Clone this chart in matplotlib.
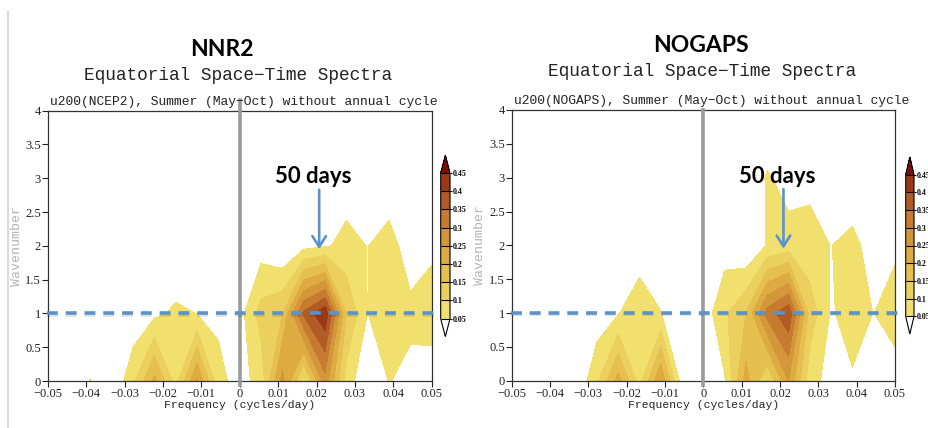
import numpy as np
import matplotlib.pyplot as plt
from matplotlib.colors import ListedColormap
import matplotlib.patheffects as pe
from matplotlib.lines import Line2D

W, H = 929, 428

# spectral grid: 180-day season -> df = 1/180 cycles/day, wavenumbers 0..4
freq = np.arange(-9, 10) / 180.0
wavenum = [0, 1, 2, 3, 4]

# power, one list per wavenumber, columns run over freq
nnr2_w0 = [0, 0, 0.052, 0, 0.09, 0.216, 0.08, 0.255, 0.065, 0.03, 0.07, 0.27, 0.08, 0.28, 0.08, 0.0, 0.052, 0.036, 0.0]
nnr2_w1 = [0, 0, 0, 0, 0.01, 0.0375, 0.06, 0.049, 0.04, 0.03, 0.12, 0.15, 0.36, 0.44, 0.15, 0.049, 0.09, 0.062, 0.095]
nnr2_w2 = [0, 0, 0, 0, 0, 0, 0, 0, 0, 0, 0.025, 0.0, 0.034, 0.045, 0.062, 0.049, 0.07, 0.025, 0.032]
nnr2_w3 = [0, 0, 0, 0, 0, 0, 0, 0, 0, 0, 0, 0, 0, 0.01, 0.03, 0.0, 0.017, 0.0, 0.0]
nnr2_w4 = [0] * 19

nogaps_w0 = [0, 0, 0, 0.005, 0.09, 0.22, 0.08, 0.25, 0.021, 0.0, 0.045, 0.22, 0.10, 0.25, 0.07, 0.03, 0.045, 0.0, 0.0]
nogaps_w1 = [0, 0, 0, 0, 0.02, 0.046, 0.095, 0.052, 0.0, 0.02, 0.091, 0.15, 0.32, 0.39, 0.13, 0.045, 0.07, 0.049, 0.1]
nogaps_w2 = [0, 0, 0, 0, 0, 0, 0.01, 0, 0, 0, 0.026, 0.0, 0.053, 0.07, 0.065, 0.049, 0.066, 0.025, 0.029]
nogaps_w3 = [0, 0, 0, 0, 0, 0, 0, 0, 0, 0, 0, 0, 0.056, 0.03, 0.04, 0.0, 0.01, 0.0, 0.0]
nogaps_w4 = [0] * 19

levels = [0.05, 0.1, 0.15, 0.2, 0.25, 0.3, 0.35, 0.4, 0.45]
cbar_labels = ['0.05', '0.1', '0.15', '0.2', '0.25', '0.3', '0.35', '0.4', '0.45']
shade_colors = ['#f2e06e', '#ecd05f', '#e5bf50', '#ddab42', '#d4963a', '#c67b30', '#b25c25', '#9a3818']
over_color = '#7d0d0a'

xticks = [-0.05, -0.04, -0.03, -0.02, -0.01, 0, 0.01, 0.02, 0.03, 0.04, 0.05]
xtick_labels = ['\u22120.05', '\u22120.04', '\u22120.03', '\u22120.02', '\u22120.01', '0',
                '0.01', '0.02', '0.03', '0.04', '0.05']
yticks = [0, 0.5, 1, 1.5, 2, 2.5, 3, 3.5, 4]
ytick_labels = ['0', '0.5', '1', '1.5', '2', '2.5', '3', '3.5', '4']

panel_names = ['NNR2', 'NOGAPS']
subtitles = ['u200(NCEP2), Summer (May\u2212Oct) without annual cycle',
             'u200(NOGAPS), Summer (May\u2212Oct) without annual cycle']
arrow_freq = [0.0207, 0.0209]
arrow_top = 2.83
arrow_tip = 1.95

blue = '#5b93c8'
mono = 'Liberation Mono'
serif = 'Liberation Serif'


def fx(px):
    return px / W


def fy(py):
    return 1 - py / H


fig = plt.figure(figsize=(W / 100, H / 100), dpi=100)

# slide edge line on the left
fig.add_artist(Line2D([fx(8), fx(8)], [fy(12), fy(428)], color='#dcdcdc', lw=1.6))

# pixel boxes: left, top, right, bottom
ax_boxes = [(47.7, 110.7, 431.7, 381.0), (511.7, 110.0, 895.0, 380.7)]
cax_boxes = [(440.7, 155.0, 450.0, 336.7), (905.7, 157.0, 914.0, 334.0)]
name_pos = [(222, 49), (701, 46)]
title_pos = [(238, 75), (702, 72)]
sub_pos = [(244, 102), (712, 101)]
ylabel_x = [17, 480]
days_pos = [(313, 177), (777, 177)]
vline_top = [100, 110]

powers = [np.array([nnr2_w0, nnr2_w1, nnr2_w2, nnr2_w3, nnr2_w4]),
          np.array([nogaps_w0, nogaps_w1, nogaps_w2, nogaps_w3, nogaps_w4])]

cmap = ListedColormap(shade_colors)
cmap.set_over(over_color)
cmap.set_under('white')

for i in range(2):
    l, t, r, b = ax_boxes[i]
    ax = fig.add_axes([fx(l), fy(b), fx(r) - fx(l), fy(t) - fy(b)])
    cl, ct, cr, cb = cax_boxes[i]
    cax = fig.add_axes([fx(cl), fy(cb), fx(cr) - fx(cl), fy(ct) - fy(cb)])

    cs = ax.contourf(freq, wavenum, powers[i], levels=levels, cmap=cmap, extend='both')
    ax.set_xlim(-0.05, 0.05)
    ax.set_ylim(0, 4)
    ax.set_xticks(xticks)
    ax.set_xticklabels(xtick_labels, family=serif, fontsize=9)
    ax.set_yticks(yticks)
    ax.set_yticklabels(ytick_labels, family=serif, fontsize=9)
    ax.tick_params(direction='out', length=4, width=0.8, pad=1, colors='#222222')
    for s in ax.spines.values():
        s.set_color('#333333')
        s.set_linewidth(0.9)

    # zero-frequency marker, runs a little past the frame
    per_px = 4 / (b - t)
    ax.add_line(Line2D([0, 0], [-4 * per_px, (b - vline_top[i]) * per_px],
                       color='#9a9a9a', lw=2.6, clip_on=False, zorder=4))

    # wavenumber 1 reference line
    ax.add_line(Line2D([-0.0503, 0.0523], [1, 1], color=blue, lw=2.6, dashes=(3.0, 2.2),
                       clip_on=False, zorder=5,
                       path_effects=[pe.SimpleLineShadow(offset=(0.6, -0.8), alpha=0.12),
                                     pe.Normal()]))

    ax.annotate('', xy=(arrow_freq[i], arrow_tip), xytext=(arrow_freq[i], arrow_top),
                arrowprops=dict(arrowstyle='->,head_length=0.55,head_width=0.35',
                                color=blue, lw=1.9, mutation_scale=14, shrinkA=0, shrinkB=0),
                zorder=6)

    cbar = fig.colorbar(cs, cax=cax, ticks=levels, drawedges=True, extendfrac=0.124)
    cbar.ax.set_yticklabels(cbar_labels, family=serif, fontsize=5.7, fontweight='bold')
    cbar.ax.tick_params(length=1.5, width=0.8, pad=0.3, direction='out')
    cbar.outline.set_linewidth(0.8)
    cbar.dividers.set_linewidth(0.8)

    fig.text(fx(name_pos[i][0]), fy(name_pos[i][1]), panel_names[i], family='Lato',
             fontweight='bold', fontsize=16.5, ha='center', va='center')
    fig.text(fx(title_pos[i][0]), fy(title_pos[i][1]), 'Equatorial Space\u2212Time Spectra',
             family=mono, fontsize=12.8, ha='center', va='center', color='#222222')
    fig.text(fx(sub_pos[i][0]), fy(sub_pos[i][1]), subtitles[i], family=mono,
             fontsize=9.4, ha='center', va='center', color='#222222')
    fig.text(fx((l + r) / 2), fy(405), 'Frequency (cycles/day)', family=mono,
             fontsize=8.2, ha='center', va='center', color='#222222')
    fig.text(fx(ylabel_x[i]), fy((t + b) / 2), 'Wavenumber', family=mono, fontsize=9.5,
             rotation=90, ha='center', va='center', color='#b4b4b4')
    fig.text(fx(days_pos[i][0]), fy(days_pos[i][1]), '50 days', family='Lato',
             fontweight='bold', fontsize=16, ha='center', va='center')

fig.savefig('out.png', dpi=100)
